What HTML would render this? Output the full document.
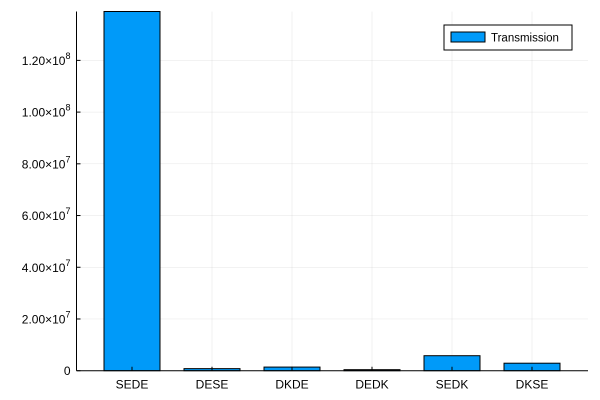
<!DOCTYPE html>
<html><head><meta charset="utf-8"><style>
body{margin:0;background:#fff;}
svg{display:block;font-family:"Liberation Sans","DejaVu Sans",sans-serif;}
</style></head><body>
<svg id="chart" width="600" height="400"></svg>
<script>
const categories=["SEDE","DESE","DKDE","DEDK","SEDK","DKSE"];
const values=[1.389e8,0.8e6,1.4e6,0.4e6,5.8e6,2.9e6];
const yTicks=[0,2e7,4e7,6e7,8e7,1e8,1.2e8];
const yTickLabels=["0","2.00×10^7","4.00×10^7","6.00×10^7","8.00×10^7","1.00×10^8","1.20×10^8"];
const seriesName="Transmission";

const svg=document.getElementById('chart');
const NS="http://www.w3.org/2000/svg";
const L=76.5,R=588,T=11.5,B=370.7,yMax=1.389e8;
function y(v){return B-(v/yMax)*(B-T);}
function xc(i){return 132+80*i;}
function mk(tag,attrs,parent){const e=document.createElementNS(NS,tag);for(const k in attrs)e.setAttribute(k,attrs[k]);(parent||svg).appendChild(e);return e;}

yTicks.forEach((t,i)=>{
  const g=mk('line',{x1:L,x2:R,y1:y(t),y2:y(t),stroke:'#000','stroke-opacity':0.1,'stroke-width':0.5});
  
  
});
categories.forEach((c,i)=>{
  const g=mk('line',{x1:xc(i),x2:xc(i),y1:T,y2:B,stroke:'#000','stroke-opacity':0.1,'stroke-width':0.5});
  
  
});
categories.forEach((c,i)=>{
  const b=mk('rect',{x:xc(i)-28,y:y(values[i]),width:56,height:B-y(values[i]),fill:'#009af9',stroke:'#000','stroke-width':1});
  
  
});
const ax=mk('line',{x1:L,x2:L,y1:T,y2:B,stroke:'#000','stroke-width':1});


const bx=mk('line',{x1:L,x2:R,y1:B,y2:B,stroke:'#000','stroke-width':1});


yTicks.forEach((t,i)=>{
  const tk=mk('line',{x1:L,x2:L+4,y1:y(t),y2:y(t),stroke:'#000','stroke-width':1});
  
  
  const tx=mk('text',{x:L-6,y:y(t)+4.5,'text-anchor':'end','font-size':12,fill:'#000'});
  
  
  const parts=yTickLabels[i].split('^');
  tx.textContent=parts[0];
  if(parts[1]){const s=mk('tspan',{dy:-6,'font-size':9},tx);s.textContent=parts[1];}
});
categories.forEach((c,i)=>{
  const tk=mk('line',{x1:xc(i),x2:xc(i),y1:B,y2:B-4,stroke:'#000','stroke-width':1});
  
  
  const tx=mk('text',{x:xc(i),y:B+18,'text-anchor':'middle','font-size':12,fill:'#000'});
  
  
  tx.textContent=c;
});
const lg=mk('g',{});


const lb=mk('rect',{x:444,y:25,width:128,height:25,fill:'#fff',stroke:'#000','stroke-width':1},lg);


const sw=mk('rect',{x:451,y:32,width:34,height:10,fill:'#009af9',stroke:'#000','stroke-width':1},lg);


const lt=mk('text',{x:491,y:41.5,'font-size':11.5,fill:'#000'},lg);


lt.textContent=seriesName;
</script>
</body></html>
